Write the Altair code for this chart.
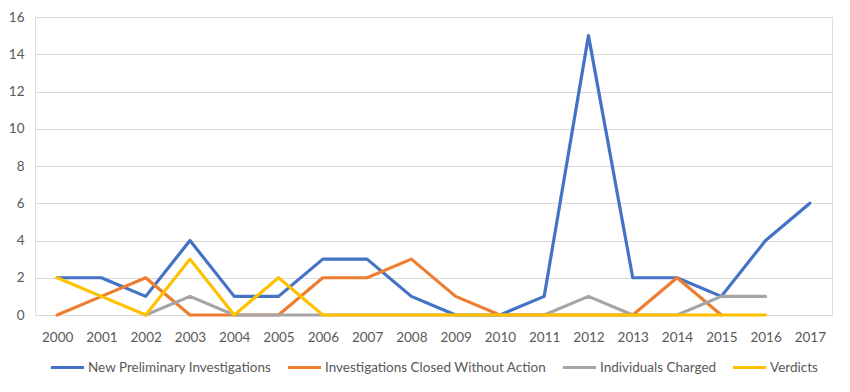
import altair as alt
import pandas as pd

years = [str(y) for y in range(2000, 2018)]
series_names = [
    "New Preliminary Investigations",
    "Investigations Closed Without Action",
    "Individuals Charged",
    "Verdicts",
]
new_prelim = [2, 2, 1, 4, 1, 1, 3, 3, 1, 0, 0, 1, 15, 2, 2, 1, 4, 6]
closed = [0, 1, 2, 0, 0, 0, 2, 2, 3, 1, 0, 0, 0, 0, 2, 0, None, None]
charged = [None, None, 0, 1, 0, 0, 0, 0, 0, 0, 0, 0, 1, 0, 0, 1, 1, None]
verdicts = [2, 1, 0, 3, 0, 2, 0, 0, 0, 0, 0, 0, 0, 0, 0, 0, 0, None]
colors = ["#4472C4", "#ED7D31", "#A5A5A5", "#FFC000"]
y_ticks = [0, 2, 4, 6, 8, 10, 12, 14, 16]

rows = []
for name, vals in zip(series_names, [new_prelim, closed, charged, verdicts]):
    for yr, v in zip(years, vals):
        if v is not None:
            rows.append({"Year": yr, "Value": v, "Series": name, "order": series_names.index(name)})
df = pd.DataFrame(rows)

FONT = "Lato, sans-serif"
FS = 13.5

chart = (
    alt.Chart(df)
    .mark_line(strokeWidth=3.2, strokeJoin="round", strokeCap="round")
    .encode(
        x=alt.X(
            "Year:O",
            sort=years,
            scale=alt.Scale(type="point", padding=0.5),
            axis=alt.Axis(
                title=None,
                labelAngle=0,
                domain=False,
                ticks=False,
                grid=False,
                labelPadding=15,
                labelFontSize=FS,
                labelColor="#595959",
                labelFont=FONT,
            ),
        ),
        y=alt.Y(
            "Value:Q",
            scale=alt.Scale(domain=[0, 16], nice=False),
            axis=alt.Axis(
                title=None,
                values=y_ticks,
                domain=False,
                ticks=False,
                gridColor="#D9D9D9",
                gridWidth=1,
                labelPadding=11,
                labelFontSize=FS,
                labelColor="#595959",
                labelFont=FONT,
            ),
        ),
        color=alt.Color(
            "Series:N",
            sort=series_names,
            scale=alt.Scale(domain=series_names, range=colors),
            legend=alt.Legend(
                title=None,
                orient="none",
                legendX=14,
                legendY=332,
                direction="horizontal",
                symbolType="stroke",
                symbolSize=1100,
                symbolStrokeWidth=3,
                labelFontSize=FS,
                labelColor="#595959",
                labelFont=FONT,
                labelLimit=0,
                labelOffset=2,
                columnPadding=9,
            ),
        ),
        order=alt.Order("order:Q"),
        detail="Series:N",
    )
    .properties(
        width=797,
        height=298,
        padding={"left": 0, "top": 2, "right": 5, "bottom": 5},
    )
    .configure_view(stroke=None)
    .configure(background="white")
)

chart.save("out.html", embed_options={"renderer": "svg", "actions": False})
